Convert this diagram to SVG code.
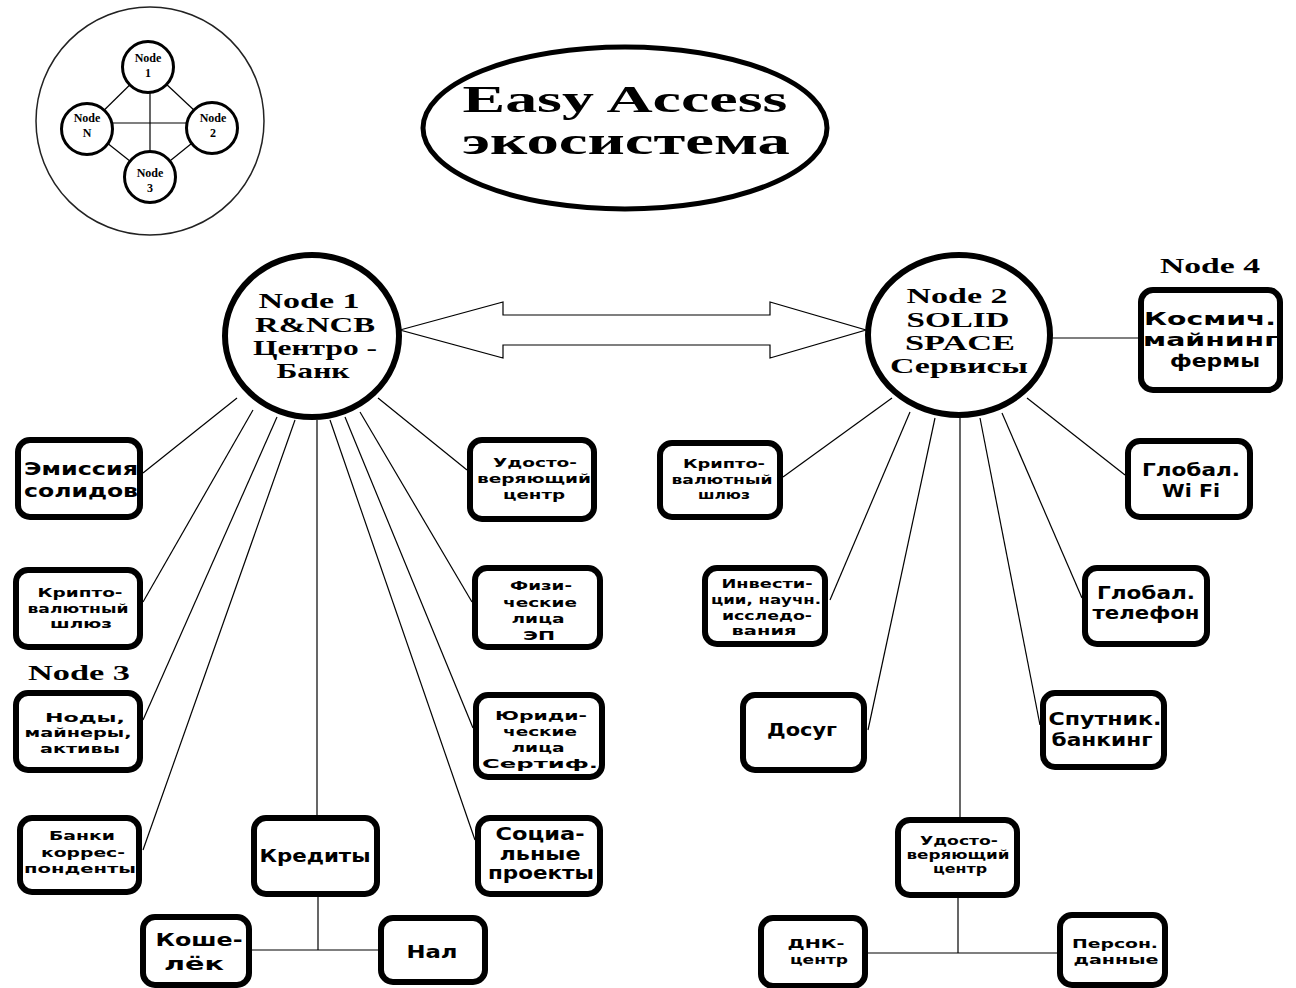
<svg xmlns="http://www.w3.org/2000/svg" width="1296" height="988" viewBox="0 0 1296 988">
<style>
.bg{fill:#fff}
.box{fill:#fff;stroke:#000;stroke-width:6}
.ln{stroke:#000;stroke-width:1.2;fill:none}
.bn{fill:#fff;stroke:#000;stroke-width:6}
.sn{fill:#fff;stroke:#000;stroke-width:3}
.t{font-family:"DejaVu Sans","Liberation Sans",sans-serif;font-weight:bold;text-anchor:middle;fill:#000}
.b{font-size:17px}
.s{font-size:13px}
.sf{font-family:"Liberation Serif","DejaVu Serif",serif;font-weight:bold;text-anchor:middle;fill:#000}
</style>
<rect class="bg" x="0" y="0" width="1296" height="988"/>

<g id="connectors">
  <line class="ln" x1="148" y1="67" x2="87" y2="127"/>
  <line class="ln" x1="148" y1="67" x2="212" y2="127"/>
  <line class="ln" x1="87" y1="127" x2="150" y2="177"/>
  <line class="ln" x1="212" y1="127" x2="150" y2="177"/>
  <line class="ln" x1="150" y1="67" x2="150" y2="177"/>
  <line class="ln" x1="87" y1="123" x2="212" y2="123"/>
  <polygon fill="#fff" stroke="#000" stroke-width="1.2" points="400,330 503,302 503,315 770,315 770,302 866,330 770,358 770,345 503,345 503,358"/>
  <line class="ln" x1="237" y1="398" x2="143" y2="473"/>
  <line class="ln" x1="253" y1="410" x2="143" y2="602"/>
  <line class="ln" x1="277" y1="417" x2="143" y2="720"/>
  <line class="ln" x1="295" y1="420" x2="143" y2="850"/>
  <line class="ln" x1="317" y1="420" x2="317" y2="815"/>
  <line class="ln" x1="330" y1="420" x2="475" y2="840"/>
  <line class="ln" x1="345" y1="417" x2="473" y2="728"/>
  <line class="ln" x1="360" y1="412" x2="472" y2="602"/>
  <line class="ln" x1="378" y1="398" x2="467" y2="470"/>
  <line class="ln" x1="318" y1="897" x2="318" y2="950"/>
  <line class="ln" x1="252" y1="950" x2="378" y2="950"/>
  <line class="ln" x1="892" y1="398" x2="783" y2="477"/>
  <line class="ln" x1="910" y1="412" x2="830" y2="600"/>
  <line class="ln" x1="935" y1="418" x2="868" y2="730"/>
  <line class="ln" x1="960" y1="418" x2="960" y2="817"/>
  <line class="ln" x1="980" y1="418" x2="1040" y2="725"/>
  <line class="ln" x1="1002" y1="413" x2="1082" y2="598"/>
  <line class="ln" x1="1027" y1="398" x2="1125" y2="475"/>
  <line class="ln" x1="1050" y1="338" x2="1138" y2="338"/>
  <line class="ln" x1="958" y1="898" x2="958" y2="953"/>
  <line class="ln" x1="868" y1="953" x2="1057" y2="953"/>
</g>

<g id="network-legend">
  <circle cx="150" cy="121" r="114" fill="none" stroke="#222" stroke-width="1.5"/>
</g>
<g id="mini-node1"><circle class="sn" cx="148" cy="67" r="25.5"/>
  <text class="sf" x="148" y="62" font-size="12">Node</text><text class="sf" x="148" y="77" font-size="12">1</text></g>
<g id="mini-nodeN"><circle class="sn" cx="87" cy="129" r="25.5"/>
  <text class="sf" x="87" y="122" font-size="12">Node</text><text class="sf" x="87" y="137" font-size="12">N</text></g>
<g id="mini-node2"><circle class="sn" cx="212" cy="128" r="25.5"/>
  <text class="sf" x="213" y="122" font-size="12">Node</text><text class="sf" x="213" y="137" font-size="12">2</text></g>
<g id="mini-node3"><circle class="sn" cx="150" cy="177" r="25.5"/>
  <text class="sf" x="150" y="177" font-size="12">Node</text><text class="sf" x="150" y="192" font-size="12">3</text></g>

<g id="title">
  <ellipse cx="625" cy="128" rx="202" ry="81" fill="#fff" stroke="#000" stroke-width="5"/>
  <text class="sf" x="625" y="112" font-size="38" textLength="325" lengthAdjust="spacingAndGlyphs">Easy Access</text>
  <text class="sf" x="626" y="154" font-size="38" textLength="328" lengthAdjust="spacingAndGlyphs">экосистема</text>
</g>

<g id="node1">
  <ellipse class="bn" cx="312" cy="336" rx="87" ry="81"/>
  <text class="sf" x="309" y="308" font-size="22" textLength="101" lengthAdjust="spacingAndGlyphs">Node 1</text>
  <text class="sf" x="315" y="332" font-size="22" textLength="120" lengthAdjust="spacingAndGlyphs">R&amp;NCB</text>
  <text class="sf" x="315" y="355" font-size="22" textLength="124" lengthAdjust="spacingAndGlyphs">Центро -</text>
  <text class="sf" x="313" y="378" font-size="22" textLength="73" lengthAdjust="spacingAndGlyphs">Банк</text>
</g>

<g id="node2">
  <ellipse class="bn" cx="959" cy="335" rx="91" ry="80"/>
  <text class="sf" x="957" y="303" font-size="22" textLength="101" lengthAdjust="spacingAndGlyphs">Node 2</text>
  <text class="sf" x="958" y="327" font-size="22" textLength="103" lengthAdjust="spacingAndGlyphs">SOLID</text>
  <text class="sf" x="960" y="350" font-size="22" textLength="110" lengthAdjust="spacingAndGlyphs">SPACE</text>
  <text class="sf" x="959" y="373" font-size="22" textLength="138" lengthAdjust="spacingAndGlyphs">Сервисы</text>
</g>

<g id="label-node3"><text class="sf" x="79" y="680" font-size="20" textLength="102" lengthAdjust="spacingAndGlyphs">Node 3</text></g>
<g id="label-node4"><text class="sf" x="1210" y="273" font-size="20" textLength="100" lengthAdjust="spacingAndGlyphs">Node 4</text></g>

<g id="emissia">
  <rect class="box" x="18" y="440" width="122" height="77" rx="12"/>
  <text class="t b" x="81" y="475" textLength="114" lengthAdjust="spacingAndGlyphs">Эмиссия</text>
  <text class="t b" x="81" y="497" textLength="114" lengthAdjust="spacingAndGlyphs">солидов</text>
</g>
<g id="crypto-left">
  <rect class="box" x="16" y="570" width="124" height="77" rx="12"/>
  <text class="t s" x="80" y="597" textLength="85" lengthAdjust="spacingAndGlyphs">Крипто-</text>
  <text class="t s" x="78" y="613" textLength="101" lengthAdjust="spacingAndGlyphs">валютный</text>
  <text class="t s" x="81" y="628" textLength="62" lengthAdjust="spacingAndGlyphs">шлюз</text>
</g>
<g id="nody">
  <rect class="box" x="16" y="693" width="124" height="77" rx="12"/>
  <text class="t s" x="85" y="722" font-size="14" textLength="80" lengthAdjust="spacingAndGlyphs">Ноды,</text>
  <text class="t s" x="78" y="737" font-size="14" textLength="107" lengthAdjust="spacingAndGlyphs">майнеры,</text>
  <text class="t s" x="80" y="753" font-size="14" textLength="80" lengthAdjust="spacingAndGlyphs">активы</text>
</g>
<g id="banki">
  <rect class="box" x="20" y="818" width="119" height="74" rx="12"/>
  <text class="t s" x="82" y="840" textLength="66" lengthAdjust="spacingAndGlyphs">Банки</text>
  <text class="t s" x="83" y="857" textLength="84" lengthAdjust="spacingAndGlyphs">коррес-</text>
  <text class="t s" x="80" y="873" textLength="112" lengthAdjust="spacingAndGlyphs">понденты</text>
</g>
<g id="kredity">
  <rect class="box" x="254" y="818" width="123" height="76" rx="12"/>
  <text class="t b" x="315" y="862" textLength="111" lengthAdjust="spacingAndGlyphs">Кредиты</text>
</g>
<g id="social">
  <rect class="box" x="478" y="818" width="122" height="76" rx="12"/>
  <text class="t b" x="540" y="840" textLength="89" lengthAdjust="spacingAndGlyphs">Социа-</text>
  <text class="t b" x="540" y="860" textLength="81" lengthAdjust="spacingAndGlyphs">льные</text>
  <text class="t b" x="541" y="879" textLength="106" lengthAdjust="spacingAndGlyphs">проекты</text>
</g>
<g id="koshelek">
  <rect class="box" x="143" y="917" width="106" height="68" rx="12"/>
  <text class="t b" x="199" y="946" font-size="19" textLength="87" lengthAdjust="spacingAndGlyphs">Коше-</text>
  <text class="t b" x="194" y="970" font-size="19" textLength="60" lengthAdjust="spacingAndGlyphs">лёк</text>
</g>
<g id="nal">
  <rect class="box" x="381" y="918" width="104" height="64" rx="12"/>
  <text class="t b" x="432" y="958" textLength="51" lengthAdjust="spacingAndGlyphs">Нал</text>
</g>
<g id="udost-left">
  <rect class="box" x="470" y="440" width="124" height="79" rx="12"/>
  <text class="t s" x="535" y="467" textLength="84" lengthAdjust="spacingAndGlyphs">Удосто-</text>
  <text class="t s" x="534" y="483" textLength="114" lengthAdjust="spacingAndGlyphs">веряющий</text>
  <text class="t s" x="534" y="499" textLength="62" lengthAdjust="spacingAndGlyphs">центр</text>
</g>
<g id="fiz">
  <rect class="box" x="475" y="568" width="125" height="79" rx="12"/>
  <text class="t s" x="541" y="590" textLength="62" lengthAdjust="spacingAndGlyphs">Физи-</text>
  <text class="t s" x="540" y="607" textLength="74" lengthAdjust="spacingAndGlyphs">ческие</text>
  <text class="t s" x="538" y="623" textLength="53" lengthAdjust="spacingAndGlyphs">лица</text>
  <text class="t s" x="539" y="640" textLength="32" lengthAdjust="spacingAndGlyphs">ЭП</text>
</g>
<g id="yur">
  <rect class="box" x="476" y="695" width="126" height="82" rx="12"/>
  <text class="t s" x="541" y="720" textLength="92" lengthAdjust="spacingAndGlyphs">Юриди-</text>
  <text class="t s" x="540" y="736" textLength="74" lengthAdjust="spacingAndGlyphs">ческие</text>
  <text class="t s" x="538" y="752" textLength="53" lengthAdjust="spacingAndGlyphs">лица</text>
  <text class="t s" x="540" y="768" textLength="116" lengthAdjust="spacingAndGlyphs">Сертиф.</text>
</g>
<g id="crypto-right">
  <rect class="box" x="660" y="443" width="120" height="74" rx="12"/>
  <text class="t s" x="724" y="468" textLength="82" lengthAdjust="spacingAndGlyphs">Крипто-</text>
  <text class="t s" x="722" y="484" textLength="101" lengthAdjust="spacingAndGlyphs">валютный</text>
  <text class="t s" x="724" y="499" textLength="52" lengthAdjust="spacingAndGlyphs">шлюз</text>
</g>
<g id="invest">
  <rect class="box" x="705" y="568" width="120" height="76" rx="12"/>
  <text class="t s" x="767" y="588" textLength="91" lengthAdjust="spacingAndGlyphs">Инвести-</text>
  <text class="t s" x="766" y="604" textLength="110" lengthAdjust="spacingAndGlyphs">ции, научн.</text>
  <text class="t s" x="767" y="620" textLength="90" lengthAdjust="spacingAndGlyphs">исследо-</text>
  <text class="t s" x="764" y="635" textLength="65" lengthAdjust="spacingAndGlyphs">вания</text>
</g>
<g id="dosug">
  <rect class="box" x="743" y="695" width="121" height="75" rx="12"/>
  <text class="t b" x="802" y="736" textLength="70" lengthAdjust="spacingAndGlyphs">Досуг</text>
</g>
<g id="udost-right">
  <rect class="box" x="898" y="820" width="119" height="75" rx="12"/>
  <text class="t s" x="959" y="845" font-size="12" textLength="78" lengthAdjust="spacingAndGlyphs">Удосто-</text>
  <text class="t s" x="958" y="859" font-size="12" textLength="103" lengthAdjust="spacingAndGlyphs">веряющий</text>
  <text class="t s" x="960" y="873" font-size="12" textLength="54" lengthAdjust="spacingAndGlyphs">центр</text>
</g>
<g id="dnk">
  <rect class="box" x="761" y="918" width="104" height="68" rx="12"/>
  <text class="t s" x="816" y="948" textLength="57" lengthAdjust="spacingAndGlyphs">ДНК-</text>
  <text class="t s" x="819" y="964" textLength="58" lengthAdjust="spacingAndGlyphs">центр</text>
</g>
<g id="person">
  <rect class="box" x="1060" y="915" width="105" height="70" rx="12"/>
  <text class="t s" x="1115" y="948" textLength="86" lengthAdjust="spacingAndGlyphs">Персон.</text>
  <text class="t s" x="1116" y="964" textLength="85" lengthAdjust="spacingAndGlyphs">данные</text>
</g>
<g id="sputnik">
  <rect class="box" x="1043" y="693" width="121" height="74" rx="12"/>
  <text class="t b" x="1105" y="725" textLength="113" lengthAdjust="spacingAndGlyphs">Спутник.</text>
  <text class="t b" x="1102" y="746" textLength="101" lengthAdjust="spacingAndGlyphs">банкинг</text>
</g>
<g id="phone">
  <rect class="box" x="1085" y="568" width="122" height="76" rx="12"/>
  <text class="t b" x="1146" y="599" textLength="98" lengthAdjust="spacingAndGlyphs">Глобал.</text>
  <text class="t b" x="1146" y="619" textLength="107" lengthAdjust="spacingAndGlyphs">телефон</text>
</g>
<g id="wifi">
  <rect class="box" x="1128" y="441" width="122" height="76" rx="12"/>
  <text class="t b" x="1191" y="476" textLength="98" lengthAdjust="spacingAndGlyphs">Глобал.</text>
  <text class="t b" x="1191" y="497" textLength="58" lengthAdjust="spacingAndGlyphs">Wi Fi</text>
</g>
<g id="kosmich">
  <rect class="box" x="1141" y="290" width="139" height="100" rx="12"/>
  <text class="t b" x="1210" y="325" font-size="19" textLength="132" lengthAdjust="spacingAndGlyphs">Космич.</text>
  <text class="t b" x="1211" y="346" font-size="19" textLength="136" lengthAdjust="spacingAndGlyphs">майнинг</text>
  <text class="t b" x="1215" y="367" font-size="19" textLength="90" lengthAdjust="spacingAndGlyphs">фермы</text>
</g>
</svg>
